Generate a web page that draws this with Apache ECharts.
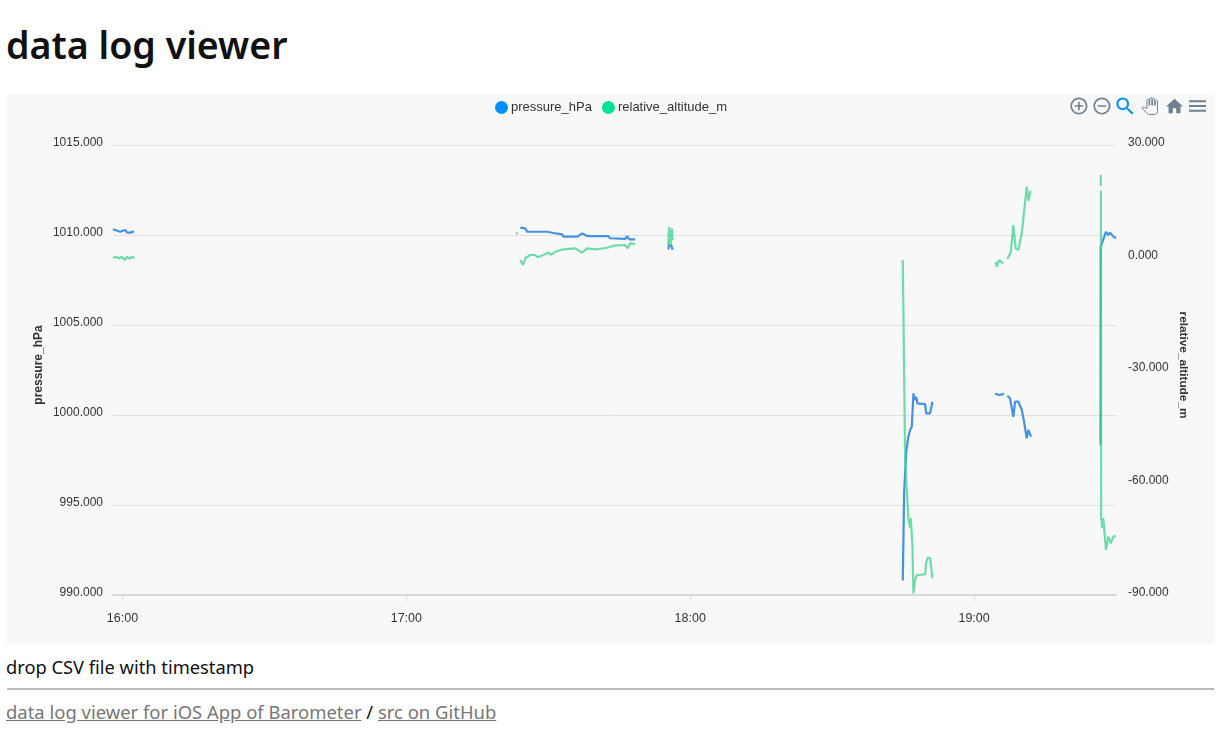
<!DOCTYPE html>
<html>
<head>
<meta charset="utf-8">
<title>data log viewer</title>
<script src="https://cdn.jsdelivr.net/npm/echarts@6/dist/echarts.min.js"></script>
<style>
  html, body { margin: 0; padding: 0; background: #fff; }
  body { position: relative; width: 1220px; height: 740px; overflow: hidden; font-family: "Noto Sans", sans-serif; color: #111; }
  h1 { position: absolute; left: 6px; top: 20px; margin: 0; font-size: 37.6px; line-height: 50px; font-weight: 600; }
  #chart { position: absolute; left: 7px; top: 94px; width: 1207px; height: 550px; background: #f8f8f8; }
  #drop { position: absolute; left: 6px; top: 654px; margin: 0; font-size: 18.3px; line-height: 26px; }
  hr { position: absolute; left: 7px; top: 688px; width: 1207px; margin: 0; border: 0; border-top: 2px solid #bbb; }
  #links { position: absolute; left: 6px; top: 699px; margin: 0; font-size: 18.45px; line-height: 26px; }
  #links a { color: #777; text-decoration: underline; }
</style>
</head>
<body>
<h1>data log viewer</h1>
<div id="chart"></div>
<p id="drop">drop CSV file with timestamp</p>
<hr>
<p id="links"><a href="#">data log viewer for iOS App of Barometer</a> / <a href="#">src on GitHub</a></p>

<script>
// values, null = gap in the log
const pressureTimes = [
  '15:58:00', '15:59:30', '16:00:35', '16:01:00', '16:01:20', '16:01:40', '16:02:25', '16:02:30',
  '17:23:14', '17:23:28', '17:23:30', '17:24:05', '17:25:08', '17:25:34', '17:29:48', '17:29:50', '17:31:04', '17:31:06', '17:32:58', '17:33:10', '17:36:08', '17:37:11', '17:38:14', '17:42:41', '17:43:06', '17:46:16', '17:46:42', '17:47:06', '17:48:23', '17:48:30',
  '17:55:22', '17:55:30', '17:55:59', '17:56:05', '17:56:18', '17:56:25',
  '18:44:56', '18:45:13', '18:45:38', '18:46:07', '18:46:29', '18:46:50', '18:47:11', '18:47:28', '18:47:45', '18:48:02', '18:49:39', '18:49:52', '18:50:42', '18:51:12', '18:51:20',
  '19:04:26', '19:04:48', '19:05:21', '19:05:42', '19:06:20', '19:06:40',
  '19:07:02', '19:07:36', '19:08:18', '19:08:40', '19:09:22', '19:10:05', '19:10:34', '19:11:08', '19:11:28', '19:12:02', '19:12:10',
  '19:26:44', '19:26:46', '19:26:59', '19:27:53', '19:28:22', '19:28:44', '19:29:06', '19:29:26', '19:30:00'
];
const pressureValues = [
  1010.32, 1010.18, 1010.28, 1010.13, 1010.22, 1010.13, 1010.2, null,
  1010.09, 1010.09, null, 1010.41, 1010.37, 1010.18, 1010.18, 1010.11, 1010.11, 1010.03, 1010.03, 1009.91, 1009.91, 1010.09, 1009.94, 1009.94, 1009.82, 1009.79, 1009.94, 1009.76, 1009.76, null,
  1009.2, 1009.44, 1009.44, 1009.46, 1009.17, null,
  990.8, 995.67, 997.9, 998.8, 999.17, 999.35, 1001.2, 1000.83, 1001.02, 1000.65, 1000.6, 1000.09, 1000.09, 1000.74, null,
  1001.17, 1001.24, 1001.11, 1001.15, 1001.17, null,
  1001.06, 1000.93, 999.9, 1000.74, 1000.74, 1000.28, 999.63, 998.7, 999.17, 998.8, null,
  998.33, 1009.35, 1009.35, 1010.18, 1010.0, 1010.13, 1010.03, 1009.91, 1009.82
];
const altitudeTimes = [
  '15:58:00', '15:58:40', '15:59:20', '15:59:50', '16:00:30', '16:01:00', '16:01:30', '16:02:00', '16:02:30', '16:02:35',
  '17:24:05', '17:24:39', '17:25:08', '17:26:12', '17:27:15', '17:27:44', '17:28:57', '17:30:00', '17:30:34', '17:31:28', '17:33:10', '17:35:42', '17:36:03', '17:37:07', '17:38:10', '17:40:17', '17:42:24', '17:43:48', '17:46:16', '17:46:45', '17:47:19', '17:48:23', '17:48:30',
  '17:55:22', '17:55:30', '17:55:49', '17:55:59', '17:56:05', '17:56:18', '17:56:25',
  '18:44:56', '18:45:26', '18:46:07', '18:46:29', '18:46:38', '18:46:59', '18:47:11', '18:47:32', '18:47:53', '18:48:14', '18:49:39', '18:49:52', '18:50:13', '18:50:42', '18:51:12', '18:51:20',
  '19:04:35', '19:04:48', '19:05:17', '19:06:11', '19:06:30',
  '19:07:02', '19:07:46', '19:08:18', '19:08:48', '19:09:22', '19:10:05', '19:11:08', '19:11:30', '19:11:55', '19:12:00',
  '19:26:46', '19:26:47', '19:26:48',
  '19:26:49', '19:26:52', '19:27:06', '19:27:18', '19:27:53', '19:28:22', '19:28:53', '19:29:26', '19:30:00'
];
const altitudeValues = [
  -0.13, 0.21, -0.3, 0.21, -0.67, 0.2, -0.4, 0.21, -0.2, null,
  -0.67, -2, -0.21, 0.67, 0.67, 0.05, 0.67, 1.28, 0.67, 1.55, 2.19, 2.45, 2.72, 1.28, 2.45, 2.19, 2.61, 3.15, 3.33, 2.45, 3.79, 3.6, null,
  3.33, 8.2, 3.33, 4.67, 7.87, 4.67, null,
  -0.67, -54, -69.55, -72.13, -69.55, -77.12, -89.55, -86, -84.67, -84.2, -84.5, -81.4, -80, -80.2, -85.5, null,
  -1.12, -2.45, -0.67, -1.55, null,
  -0.4, 1.55, 8.67, 2.45, 2, 6.45, 18.88, 15.15, 17.81, null,
  22, 19.07, null,
  17.81, -69.47, -72.13, -69.47, -78, -74.45, -76.2, -74.45, -74.27
];
const xMin = '15:58:00';
const xMax = '19:30:00';
const pressureColor = '#008FFB';
const altitudeColor = '#00E396';

// all the log is from one day, the date itself never shows
const toTime = s => new Date('2020-06-15T' + s).getTime();
const zip = (times, values) => times.map((t, i) => [toTime(t), values[i]]);

const icons = {
  myZoomIn: 'path://M13 7h-2v4H7v2h4v4h2v-4h4v-2h-4V7zm-1-5C6.48 2 2 6.48 2 12s4.48 10 10 10 10-4.48 10-10S17.52 2 12 2zm0 18c-4.41 0-8-3.59-8-8s3.59-8 8-8 8 3.59 8 8-3.59 8-8 8z',
  myZoomOut: 'path://M7 11v2h10v-2H7zm5-9C6.48 2 2 6.48 2 12s4.48 10 10 10 10-4.48 10-10S17.52 2 12 2zm0 18c-4.41 0-8-3.59-8-8s3.59-8 8-8 8 3.59 8 8-3.59 8-8 8z',
  mySelect: 'path://M15.5 14h-.79l-.28-.27C15.41 12.59 16 11.11 16 9.5 16 5.91 13.09 3 9.5 3S3 5.91 3 9.5 5.91 16 9.5 16c1.61 0 3.09-.59 4.23-1.57l.27.28v.79l5 4.99L20.49 19l-4.99-5zm-6 0C7.01 14 5 11.99 5 9.5S7.01 5 9.5 5 14 7.01 14 9.5 11.99 14 9.5 14z',
  myPan: 'path://M23 5.5V20c0 2.2-1.8 4-4 4h-7.3c-1.08 0-2.1-.43-2.85-1.19L1 14.83s1.26-1.23 1.3-1.25c.22-.19.49-.29.79-.29.22 0 .42.06.6.16.04.01 4.31 2.46 4.31 2.46V4c0-.83.67-1.5 1.5-1.5S11 3.17 11 4v7h1V1.5c0-.83.67-1.5 1.5-1.5S15 .67 15 1.5V11h1V2.5c0-.83.67-1.5 1.5-1.5s1.5.67 1.5 1.5V11h1V5.5c0-.83.67-1.5 1.5-1.5s1.5.67 1.5 1.5z',
  myHome: 'path://M10 20v-6h4v6h5v-8h3L12 3 2 12h3v8z',
  myMenu: 'path://M3 18h18v-2H3v2zm0-5h18v-2H3v2zm0-7v2h18V6H3z'
};
const iconGrey = '#6E8192';
const solid = color => ({ color: color, borderWidth: 0 });

const fontName = '"Liberation Sans", Arial, sans-serif';
const myChart = echarts.init(document.getElementById('chart'));
myChart.setOption({
  animation: false,
  textStyle: { fontFamily: fontName },
  legend: {
    top: 2,
    left: 483,
    icon: 'circle',
    itemWidth: 13,
    itemHeight: 13,
    itemGap: 10,
    textStyle: { fontSize: 13, color: '#333', fontFamily: fontName, padding: [0, 0, 0, -2] },
    data: ['pressure_hPa', 'relative_altitude_m']
  },
  toolbox: {
    top: -14,
    right: -7,
    itemSize: 17,
    itemGap: 6,
    showTitle: false,
    feature: {
      myZoomIn: { show: true, title: 'zoom in', icon: icons.myZoomIn, iconStyle: solid(iconGrey), onclick() {} },
      myZoomOut: { show: true, title: 'zoom out', icon: icons.myZoomOut, iconStyle: solid(iconGrey), onclick() {} },
      mySelect: { show: true, title: 'selection zoom', icon: icons.mySelect, iconStyle: solid(pressureColor), onclick() {} },
      myPan: { show: true, title: 'pan', icon: icons.myPan, iconStyle: { color: 'none', borderColor: iconGrey, borderWidth: 1 }, onclick() {} },
      myHome: { show: true, title: 'reset', icon: icons.myHome, iconStyle: solid(iconGrey), onclick() {} },
      myMenu: { show: true, title: 'menu', icon: icons.myMenu, iconStyle: solid(iconGrey), onclick() {} }
    }
  },
  grid: { left: 106, right: 98, top: 51, bottom: 49 },
  xAxis: {
    type: 'time',
    min: toTime(xMin),
    max: toTime(xMax),
    minInterval: 3600000,
    maxInterval: 3600000,
    axisLine: { onZero: false, lineStyle: { color: '#d8d8d8', width: 2 } },
    axisTick: { show: true, length: 6, lineStyle: { color: '#d8d8d8' } },
    axisLabel: { formatter: '{HH}:{mm}', fontSize: 12.5, color: '#333', margin: 17, showMinLabel: false, showMaxLabel: false, hideOverlap: false },
    splitLine: { show: false }
  },
  yAxis: [
    {
      type: 'value',
      name: 'pressure_hPa',
      nameLocation: 'middle',
      nameGap: 68,
      nameMoveOverlap: false,
      nameTextStyle: { fontWeight: 'bold', fontSize: 12, color: '#333', padding: [0, 0, 0, 10] },
      min: 990,
      max: 1015,
      interval: 5,
      axisLine: { show: false },
      axisTick: { show: false },
      axisLabel: { fontSize: 12, color: '#333', margin: 10, verticalAlign: 'bottom', lineHeight: 4, formatter: v => v.toFixed(3) },
      splitLine: { lineStyle: { color: '#e2e2e2' } }
    },
    {
      type: 'value',
      name: 'relative_altitude_m',
      nameLocation: 'middle',
      nameGap: 61,
      nameMoveOverlap: false,
      nameRotate: -90,
      nameTextStyle: { fontWeight: 'bold', fontSize: 11.8, color: '#333', padding: [0, 10, 0, 0] },
      min: -90,
      max: 30,
      interval: 30,
      axisLine: { show: false },
      axisTick: { show: false },
      axisLabel: { fontSize: 12, color: '#333', margin: 12, verticalAlign: 'bottom', lineHeight: 4, formatter: v => v.toFixed(3) },
      splitLine: { show: false }
    }
  ],
  series: [
    {
      name: 'pressure_hPa',
      type: 'line',
      yAxisIndex: 0,
      showSymbol: false,
      connectNulls: false,
      itemStyle: { color: pressureColor },
      lineStyle: { color: '#3a8de0', width: 2.2, opacity: 0.95 },
      data: zip(pressureTimes, pressureValues)
    },
    {
      name: 'relative_altitude_m',
      type: 'line',
      yAxisIndex: 1,
      showSymbol: false,
      connectNulls: false,
      itemStyle: { color: altitudeColor },
      lineStyle: { color: '#3dd391', width: 2.2, opacity: 0.75 },
      data: zip(altitudeTimes, altitudeValues)
    }
  ]
});
</script>
</body>
</html>
